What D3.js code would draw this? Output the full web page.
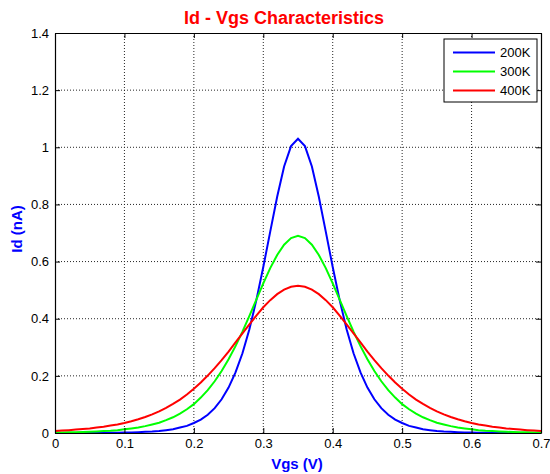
<!DOCTYPE html>
<html>
<head>
<meta charset="utf-8">
<script src="https://cdn.jsdelivr.net/npm/d3@7"></script>
<style>
  body { margin: 0; background: #fff; }
  svg { display: block; font-family: "Liberation Sans", Arial, Helvetica, sans-serif; }
</style>
</head>
<body>
<svg id="chart"></svg>
<script>
// Vgs sweep (V)
const vgs = [0, 0.01, 0.02, 0.03, 0.04, 0.05, 0.06, 0.07, 0.08, 0.09,
  0.10, 0.11, 0.12, 0.13, 0.14, 0.15, 0.16, 0.17, 0.18, 0.19,
  0.20, 0.21, 0.22, 0.23, 0.24, 0.25, 0.26, 0.27, 0.28, 0.29,
  0.30, 0.31, 0.32, 0.33, 0.34, 0.35, 0.36, 0.37, 0.38, 0.39,
  0.40, 0.41, 0.42, 0.43, 0.44, 0.45, 0.46, 0.47, 0.48, 0.49,
  0.50, 0.51, 0.52, 0.53, 0.54, 0.55, 0.56, 0.57, 0.58, 0.59,
  0.60, 0.61, 0.62, 0.63, 0.64, 0.65, 0.66, 0.67, 0.68, 0.69, 0.70];

// Id (nA)
const id200 = [0.0001, 0.0001, 0.0001, 0.0002, 0.0002, 0.0003, 0.0004, 0.0006, 0.0008, 0.001,
  0.0014, 0.002, 0.003, 0.004, 0.005, 0.007, 0.010, 0.013, 0.019, 0.025,
  0.035, 0.047, 0.064, 0.087, 0.118, 0.159, 0.212, 0.279, 0.363, 0.465,
  0.581, 0.705, 0.827, 0.933, 1.004, 1.030, 1.004, 0.933, 0.827, 0.705,
  0.581, 0.465, 0.363, 0.279, 0.212, 0.159, 0.118, 0.087, 0.064, 0.047,
  0.035, 0.025, 0.019, 0.013, 0.010, 0.007, 0.005, 0.004, 0.003, 0.002,
  0.0014, 0.001, 0.0008, 0.0006, 0.0004, 0.0003, 0.0002, 0.0002, 0.0001, 0.0001, 0.0001];

const id300 = [0.0015, 0.0019, 0.0023, 0.0028, 0.0035, 0.0043, 0.0054, 0.0067, 0.008, 0.010,
  0.013, 0.016, 0.019, 0.024, 0.030, 0.036, 0.045, 0.055, 0.068, 0.083,
  0.101, 0.124, 0.150, 0.181, 0.217, 0.258, 0.304, 0.355, 0.410, 0.467,
  0.524, 0.577, 0.623, 0.659, 0.682, 0.690, 0.682, 0.659, 0.623, 0.577,
  0.524, 0.467, 0.410, 0.355, 0.304, 0.258, 0.217, 0.181, 0.150, 0.124,
  0.101, 0.083, 0.068, 0.055, 0.045, 0.036, 0.030, 0.024, 0.019, 0.016,
  0.013, 0.010, 0.008, 0.0067, 0.0054, 0.0043, 0.0035, 0.0028, 0.0023, 0.0019, 0.0015];

const id400 = [0.0072, 0.0084, 0.010, 0.012, 0.014, 0.016, 0.019, 0.022, 0.026, 0.030,
  0.035, 0.041, 0.048, 0.056, 0.065, 0.076, 0.088, 0.102, 0.117, 0.135,
  0.155, 0.177, 0.201, 0.227, 0.255, 0.285, 0.317, 0.349, 0.380, 0.411,
  0.440, 0.465, 0.486, 0.502, 0.512, 0.515, 0.512, 0.502, 0.486, 0.465,
  0.440, 0.411, 0.380, 0.349, 0.317, 0.285, 0.255, 0.227, 0.201, 0.177,
  0.155, 0.135, 0.117, 0.102, 0.088, 0.076, 0.065, 0.056, 0.048, 0.041,
  0.035, 0.030, 0.026, 0.022, 0.019, 0.016, 0.014, 0.012, 0.010, 0.0084, 0.0072];

const seriesNames = ["200K", "300K", "400K"];
const seriesColors = ["#0000ff", "#00ff00", "#ff0000"];
const xTicks = [0, 0.1, 0.2, 0.3, 0.4, 0.5, 0.6, 0.7];
const yTicks = [0, 0.2, 0.4, 0.6, 0.8, 1, 1.2, 1.4];

const width = 550, height = 474;
const margin = {top: 33, right: 9, bottom: 41, left: 55};
const svg = d3.select("#chart").attr("width", width).attr("height", height);

const x = d3.scaleLinear().domain([0, 0.7]).range([margin.left, width - margin.right]);
const y = d3.scaleLinear().domain([0, 1.4]).range([height - margin.bottom, margin.top]);

// grid
const grid = svg.append("g").attr("stroke", "#000").attr("stroke-width", 1)
  .attr("stroke-dasharray", "1,2").attr("opacity", 0.85);
xTicks.slice(1, -1).forEach(t => {
  grid.append("line").attr("x1", x(t)).attr("x2", x(t))
    .attr("y1", y(0)).attr("y2", y(1.4));
});
yTicks.slice(1, -1).forEach(t => {
  grid.append("line").attr("x1", x(0)).attr("x2", x(0.7))
    .attr("y1", y(t)).attr("y2", y(t));
});

// curves
const series = [id200, id300, id400];
const line = d3.line().x((d, i) => x(vgs[i])).y(d => y(d));
series.forEach((s, k) => {
  svg.append("path").datum(s)
    .attr("fill", "none")
    .attr("stroke", seriesColors[k])
    .attr("stroke-width", 2)
    .attr("d", line);
});

// axes (box with inward ticks, like matlab)
const fmt = d => String(+d.toFixed(1));
svg.append("g").attr("transform", `translate(0,${y(0)})`)
  .call(d3.axisBottom(x).tickValues(xTicks).tickFormat(fmt).tickSizeInner(-5).tickSizeOuter(0).tickPadding(6))
  .call(g => g.selectAll("text").attr("font-size", 13).attr("fill", "#000").attr("font-family", null));
svg.append("g").attr("transform", `translate(${x(0)},0)`)
  .call(d3.axisLeft(y).tickValues(yTicks).tickFormat(fmt).tickSizeInner(-5).tickSizeOuter(0).tickPadding(6))
  .call(g => g.selectAll("text").attr("font-size", 13).attr("fill", "#000").attr("font-family", null));
svg.append("g").attr("transform", `translate(0,${y(1.4)})`)
  .call(d3.axisTop(x).tickValues(xTicks).tickFormat("").tickSizeInner(-5).tickSizeOuter(0));
svg.append("g").attr("transform", `translate(${x(0.7)},0)`)
  .call(d3.axisRight(y).tickValues(yTicks).tickFormat("").tickSizeInner(-5).tickSizeOuter(0));
svg.selectAll(".domain").attr("stroke", "#000").attr("stroke-width", 1.2);

// title and labels
svg.append("text").attr("x", 284).attr("y", 24)
  .attr("text-anchor", "middle").attr("font-size", 18).attr("font-weight", "bold")
  .attr("fill", "#ff0000").text("Id - Vgs Characteristics");
svg.append("text").attr("x", 297).attr("y", 469)
  .attr("text-anchor", "middle").attr("font-size", 15).attr("font-weight", "bold")
  .attr("fill", "#0000ff").text("Vgs (V)");
svg.append("text").attr("transform", "translate(22,229) rotate(-90)")
  .attr("text-anchor", "middle").attr("font-size", 15).attr("font-weight", "bold")
  .attr("fill", "#0000ff").text("Id (nA)");

// legend
const lg = svg.append("g").attr("transform", "translate(444,39)");
lg.append("rect").attr("width", 93).attr("height", 63)
  .attr("fill", "#fff").attr("stroke", "#000").attr("stroke-width", 1);
seriesNames.forEach((n, k) => {
  const yy = 13.5 + k * 19;
  lg.append("line").attr("x1", 9).attr("x2", 51).attr("y1", yy).attr("y2", yy)
    .attr("stroke", seriesColors[k]).attr("stroke-width", 2);
  lg.append("text").attr("x", 56).attr("y", yy + 4.5).attr("font-size", 13)
    .attr("fill", "#000").text(n);
});
</script>
</body>
</html>
